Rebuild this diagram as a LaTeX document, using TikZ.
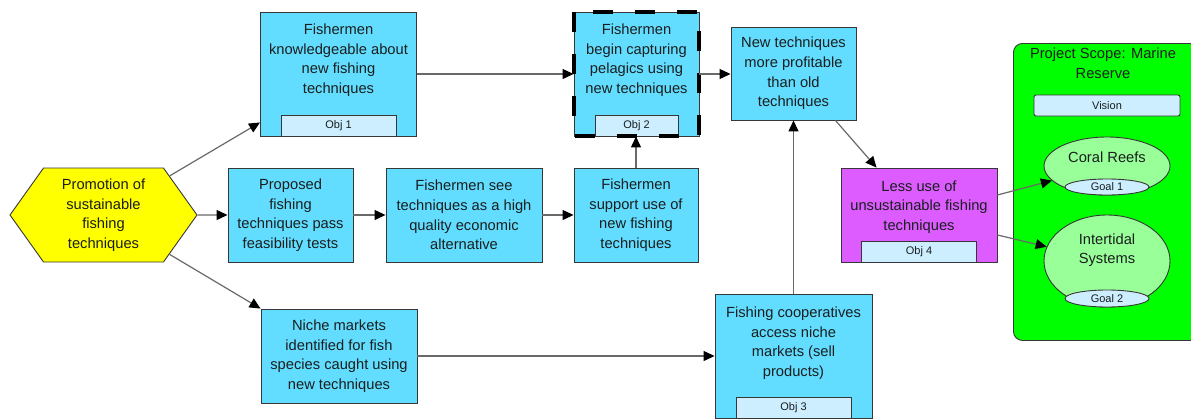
\documentclass[tikz,border=0pt]{standalone}
\usepackage{fontspec}
\setmainfont{Liberation Sans}
\usetikzlibrary{shapes.symbols,shapes.geometric,arrows.meta}

\definecolor{factorblue}{RGB}{99,221,255}
\definecolor{tagblue}{RGB}{204,238,255}
\definecolor{hexyellow}{RGB}{255,255,0}
\definecolor{resultpink}{RGB}{221,92,255}
\definecolor{scopegreen}{RGB}{0,255,0}
\definecolor{targetgreen}{RGB}{153,255,153}
\definecolor{edgegray}{RGB}{55,55,55}
\definecolor{linkgray}{RGB}{105,105,105}
\definecolor{inkgray}{RGB}{25,30,30}

\tikzset{
    mainfont/.style={font=\fontsize{14.7}{19.6}\selectfont, text=inkgray, align=center},
    factor/.style={draw=edgegray, fill=factorblue, line width=0.9pt, inner sep=0pt, mainfont},
    result/.style={factor, fill=resultpink},
    boxtext/.style={inner sep=0pt, mainfont},
    tag/.style={draw=edgegray, fill=tagblue, line width=0.9pt, inner sep=0pt, minimum height=21, font=\fontsize{11}{13}\selectfont, text=inkgray},
    hexa/.style={signal, signal to=west and east, signal pointer angle=109, draw=edgegray, fill=hexyellow, line width=0.9pt, inner sep=0pt, minimum width=187, minimum height=94, mainfont},
    target/.style={ellipse, draw=edgegray, fill=targetgreen, line width=0.9pt, inner sep=0pt},
    goal/.style={ellipse, draw=edgegray, fill=tagblue, line width=0.9pt, inner sep=0pt, font=\fontsize{11}{13}\selectfont, text=inkgray},
    keyline/.style={draw=black, line width=4pt, dash pattern=on 20pt off 22pt},
    link/.style={draw=linkgray, line width=1.2pt, -{Triangle[length=11pt,width=10pt,color=black]}}
}

\begin{document}
\begin{tikzpicture}[x=1pt,y=-1pt]
    \clip (0,0) rectangle (1191,418);
    \fill[white] (0,0) rectangle (1191,418);

    \node[hexa] (promo) at (103.5,215) {Promotion of\\sustainable\\fishing\\techniques};

    \node[factor, minimum width=156, minimum height=124] (know) at (338.5,74) {};
    \node[boxtext] (know-t) at ([yshift=14]know.center) {Fishermen\\knowledgeable about\\new fishing\\techniques};
    \node[tag, minimum width=115, anchor=south] (obj1) at (know.south) {Obj 1};

    \node[factor, minimum width=125, minimum height=124] (capt) at (636.5,74) {};
    \node[boxtext] (capt-t) at ([yshift=14]capt.center) {Fishermen\\begin capturing\\pelagics using\\new techniques};
    \node[tag, minimum width=83, anchor=south] (obj2) at (capt.south) {Obj 2};
    \draw[keyline] (capt.north west) rectangle (capt.south east);

    \node[factor, minimum width=125, minimum height=93] (prof) at (793.5,73.5) {New techniques\\more profitable\\than old\\techniques};

    \node[factor, minimum width=125, minimum height=94] (prop) at (290.5,215) {Proposed\\fishing\\techniques pass\\feasibility tests};
    \node[factor, minimum width=156, minimum height=94] (see) at (464,215) {Fishermen see\\techniques as a high\\quality economic\\alternative};
    \node[factor, minimum width=124, minimum height=94] (supp) at (636,215) {Fishermen\\support use of\\new fishing\\techniques};

    \node[result, minimum width=156, minimum height=94] (less) at (919,215) {};
    \node[boxtext] (less-t) at ([yshift=8]less.center) {Less use of\\unsustainable fishing\\techniques};
    \node[tag, minimum width=115, anchor=south] (obj4) at (less.south) {Obj 4};

    \node[factor, minimum width=156, minimum height=94] (niche) at (339,356) {Niche markets\\identified for fish\\species caught using\\new techniques};

    \node[factor, minimum width=157, minimum height=124] (coop) at (793.5,356) {};
    \node[boxtext] (coop-t) at ([yshift=13]coop.center) {Fishing cooperatives\\access niche\\markets (sell\\products)};
    \node[tag, minimum width=115, anchor=south] (obj3) at (coop.south) {Obj 3};

    \node[draw=edgegray, fill=scopegreen, line width=0.9pt, rounded corners=9pt, minimum width=195, minimum height=297, anchor=north west] (scope) at (1013,43) {};
    \node[boxtext] (scope-t) at (1103,63.5) {Project Scope: Marine\\Reserve};
    \node[tag, rounded corners=2pt, minimum width=146] (vision) at (1107,105.5) {Vision};

    \node[target, minimum width=126, minimum height=58] (coral) at (1107,166) {};
    \node[boxtext] (coral-t) at (1107,157) {Coral Reefs};
    \node[goal, minimum width=84, minimum height=16] (goal1) at (1107,187) {Goal 1};

    \node[target, minimum width=126, minimum height=92] (inter) at (1107,261) {};
    \node[boxtext] (inter-t) at (1107,250) {Intertidal\\Systems};
    \node[goal, minimum width=84, minimum height=17] (goal2) at (1107,298.5) {Goal 2};

    \draw[link] (promo) -- ([yshift=14]know.south west);
    \draw[link] (promo) -- (prop);
    \draw[link] (promo) -- (niche.north west);
    \draw[link] (know) -- (capt);
    \draw[link] (prop) -- (see);
    \draw[link] (see) -- (supp);
    \draw[link] (supp.north) -- (supp.north |- capt.south);
    \draw[link] (capt.east) -- (capt.east -| prof.west);
    \draw[link] (coop.north) -- (prof.south);
    \draw[link] (niche) -- (niche -| coop.west);
    \draw[link] ([xshift=-21]prof.south east) -- ([xshift=36]less.north west);
    \draw[link] ([yshift=20]less.east) -- (coral);
    \draw[link] ([yshift=-20]less.east) -- (inter);
\end{tikzpicture}
\end{document}
